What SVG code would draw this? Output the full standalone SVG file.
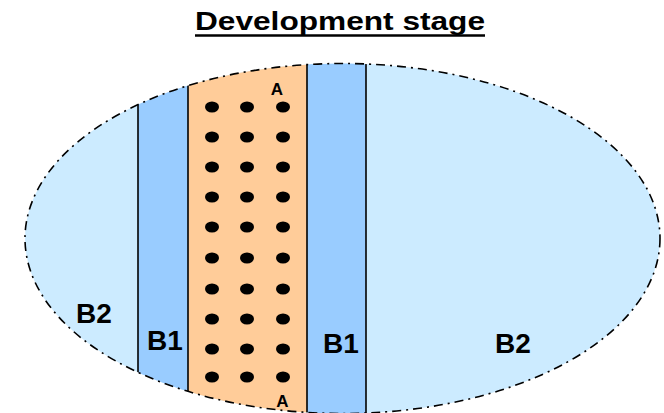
<svg xmlns="http://www.w3.org/2000/svg" xmlns:xlink="http://www.w3.org/1999/xlink" width="664" height="413" viewBox="0 0 664 413">
  <style>
    .lbl { font-family: "Liberation Sans", Arial, sans-serif; font-weight: bold; fill: #000; text-anchor: middle; }
    .big { font-size: 28px; }
    .a { font-size: 17px; }
    .edge { stroke: #000; stroke-width: 1.6; fill: none; }
    .dot { fill: #000; }
    .outline { fill: none; stroke: #000; stroke-width: 1.6; stroke-dasharray: 9 5 2 5; }
  </style>
  <defs>
    <clipPath id="clipE">
      <ellipse cx="342.5" cy="238.5" rx="317.5" ry="175"/>
    </clipPath>
    <ellipse id="d" rx="7" ry="5.5"/>
  </defs>
  <rect width="664" height="413" fill="#ffffff"/>

  <g id="title">
    <text class="lbl" x="340" y="30" font-size="26" textLength="290" lengthAdjust="spacingAndGlyphs">Development stage</text>
    <line x1="195" y1="35.5" x2="485" y2="35.5" stroke="#000" stroke-width="2.6"/>
  </g>

  <g id="body" clip-path="url(#clipE)">
    <rect id="zone-B2" x="20" y="60" width="650" height="360" fill="#CCEBFF"/>
    <rect id="zone-B1-left" x="138" y="60" width="50" height="360" fill="#99CCFF"/>
    <rect id="zone-A" x="188" y="60" width="119" height="360" fill="#FFCC99"/>
    <rect id="zone-B1-right" x="307" y="60" width="59" height="360" fill="#99CCFF"/>
    <g id="edges">
      <line class="edge" x1="138" y1="60" x2="138" y2="420"/>
      <line class="edge" x1="188" y1="60" x2="188" y2="420"/>
      <line class="edge" x1="307" y1="60" x2="307" y2="420" stroke-width="1.2"/>
      <line class="edge" x1="366" y1="60" x2="366" y2="420"/>
    </g>
  </g>

  <g id="outline">
    <ellipse class="outline" cx="342.5" cy="238.5" rx="317.5" ry="175"/>
  </g>

  <g id="dots" class="dot">
    <use xlink:href="#d" x="212" y="107"/><use xlink:href="#d" x="247" y="107"/><use xlink:href="#d" x="283" y="107"/>
    <use xlink:href="#d" x="212" y="137"/><use xlink:href="#d" x="247" y="137"/><use xlink:href="#d" x="283" y="137"/>
    <use xlink:href="#d" x="212" y="167"/><use xlink:href="#d" x="247" y="167"/><use xlink:href="#d" x="283" y="167"/>
    <use xlink:href="#d" x="212" y="197"/><use xlink:href="#d" x="247" y="197"/><use xlink:href="#d" x="283" y="197"/>
    <use xlink:href="#d" x="212" y="227"/><use xlink:href="#d" x="247" y="227"/><use xlink:href="#d" x="283" y="227"/>
    <use xlink:href="#d" x="212" y="258"/><use xlink:href="#d" x="247" y="258"/><use xlink:href="#d" x="283" y="258"/>
    <use xlink:href="#d" x="212" y="289"/><use xlink:href="#d" x="247" y="289"/><use xlink:href="#d" x="283" y="289"/>
    <use xlink:href="#d" x="212" y="319"/><use xlink:href="#d" x="247" y="319"/><use xlink:href="#d" x="283" y="319"/>
    <use xlink:href="#d" x="212" y="349"/><use xlink:href="#d" x="247" y="349"/><use xlink:href="#d" x="283" y="349"/>
    <use xlink:href="#d" x="212" y="377"/><use xlink:href="#d" x="247" y="377"/><use xlink:href="#d" x="283" y="377"/>
  </g>

  <g id="labels">
    <text id="label-A-top" class="lbl a" x="277" y="95">A</text>
    <text id="label-A-bottom" class="lbl a" x="282.5" y="407" font-size="19">A</text>
    <text id="label-B2-left" class="lbl big" x="94" y="322.5">B2</text>
    <text id="label-B1-left" class="lbl big" x="165" y="349.5">B1</text>
    <text id="label-B1-right" class="lbl big" x="341" y="352.5">B1</text>
    <text id="label-B2-right" class="lbl big" x="513" y="352.5">B2</text>
  </g>
</svg>
